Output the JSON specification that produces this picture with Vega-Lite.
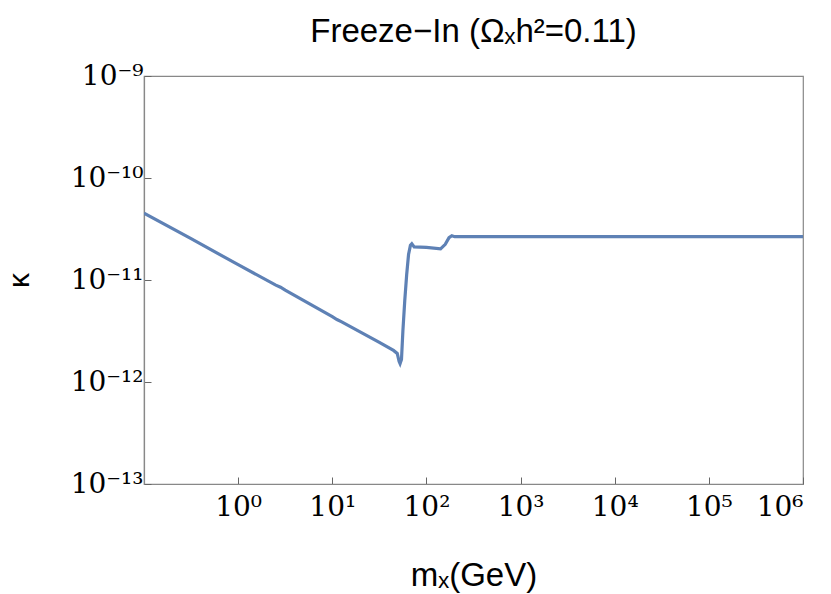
{
  "$schema": "https://vega.github.io/schema/vega-lite/v6.json",
  "width": 659,
  "height": 408,
  "autosize": {"type": "none"},
  "padding": {"left": 144, "top": 76, "right": 28, "bottom": 110},
  "background": "white",
  "title": {
    "text": "Freeze−In (Ωₓh²=0.11)",
    "font": "Liberation Sans",
    "fontSize": 33,
    "fontWeight": "normal",
    "color": "black",
    "anchor": "middle",
    "baseline": "alphabetic",
    "offset": -13
  },
  "config": {
    "view": {"stroke": "#888888", "strokeWidth": 1.2},
    "axis": {
      "domainColor": "#888888",
      "domainWidth": 1.2,
      "tickColor": "#666666",
      "tickSize": -7,
      "grid": false,
      "labelFont": "DejaVu Serif",
      "labelFontSize": 28,
      "labelColor": "black",
      "titleFont": "Liberation Sans",
      "titleFontSize": 33,
      "titleFontWeight": "normal",
      "titleColor": "black"
    }
  },
  "data": {
    "values": [
      {"m": 0.1, "k": 4.52e-11},
      {"m": 0.3162, "k": 2.54e-11},
      {"m": 1, "k": 1.413e-11},
      {"m": 2.512, "k": 8.91e-12},
      {"m": 2.82, "k": 8.5e-12},
      {"m": 3.162, "k": 7.94e-12},
      {"m": 10, "k": 4.37e-12},
      {"m": 11.2, "k": 4.1e-12},
      {"m": 12.59, "k": 3.89e-12},
      {"m": 31.62, "k": 2.45e-12},
      {"m": 44.67, "k": 2.04e-12},
      {"m": 48.98, "k": 1.905e-12},
      {"m": 51.29, "k": 1.585e-12},
      {"m": 52.48, "k": 1.514e-12},
      {"m": 54.33, "k": 1.66e-12},
      {"m": 56.23, "k": 3.16e-12},
      {"m": 58.88, "k": 6.31e-12},
      {"m": 61.66, "k": 1.122e-11},
      {"m": 64.57, "k": 1.778e-11},
      {"m": 67.61, "k": 2.188e-11},
      {"m": 69.98, "k": 2.265e-11},
      {"m": 74.13, "k": 2.113e-11},
      {"m": 100, "k": 2.09e-11},
      {"m": 141.3, "k": 2.018e-11},
      {"m": 158.5, "k": 2.239e-11},
      {"m": 173.8, "k": 2.6e-11},
      {"m": 186.2, "k": 2.72e-11},
      {"m": 199.5, "k": 2.66e-11},
      {"m": 1000000, "k": 2.66e-11}
    ]
  },
  "mark": {"type": "line", "color": "#5e81b5", "strokeWidth": 3.2, "clip": true},
  "encoding": {
    "x": {
      "field": "m",
      "type": "quantitative",
      "scale": {"type": "log", "domain": [0.1, 1000000], "nice": false},
      "axis": {
        "title": "mₓ(GeV)",
        "values": [1, 10, 100, 1000, 10000, 100000, 1000000],
        "labelExpr": "'10' + ['⁰','¹','²','³','⁴','⁵','⁶'][round(log(datum.value)/LN10)]",
        "labelPadding": 16,
        "titlePadding": 38
      }
    },
    "y": {
      "field": "k",
      "type": "quantitative",
      "scale": {"type": "log", "domain": [1e-13, 1e-9], "nice": false},
      "axis": {
        "title": "κ",
        "titleFontSize": 30,
        "values": [1e-13, 1e-12, 1e-11, 1e-10, 1e-9],
        "labelExpr": "'10⁻' + ['⁹','¹⁰','¹¹','¹²','¹³'][-9 - round(log(datum.value)/LN10)]",
        "labelPadding": 8,
        "titlePadding": 36
      }
    }
  }
}
